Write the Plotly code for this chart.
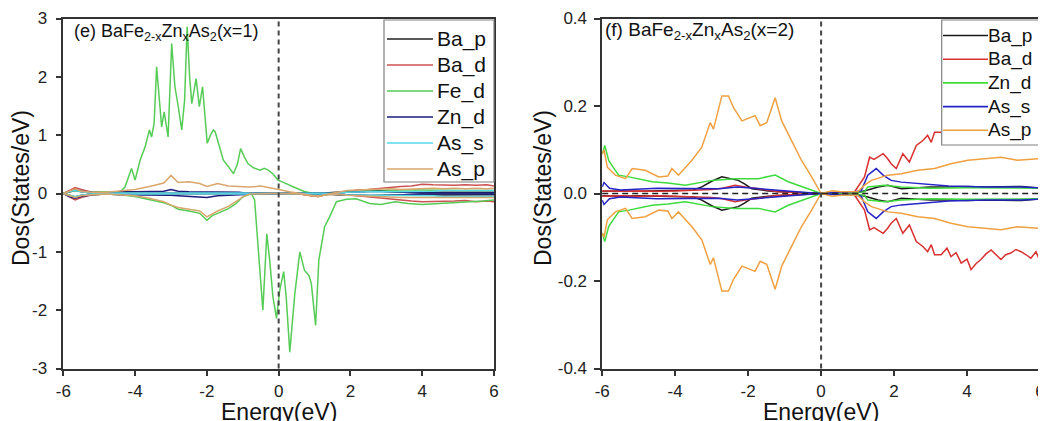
import plotly.graph_objects as go

# ---------------- Panel (e): x = 1 ----------------
E_fe_up = [-6.0, -5.7, -5.3, -4.9, -4.6, -4.42, -4.28, -4.1, -4.0, -3.86, -3.72, -3.6, -3.54, -3.47, -3.40,
           -3.33, -3.26, -3.19, -3.08, -2.98, -2.89, -2.80, -2.70, -2.62, -2.55, -2.48, -2.42, -2.30, -2.21,
           -2.12, -2.05, -1.99, -1.90, -1.82, -1.77, -1.65, -1.54, -1.40, -1.26, -1.15, -1.06, -0.95, -0.85,
           -0.70, -0.52, -0.40, -0.29, -0.15, -0.02, 0.1, 0.3, 0.5, 0.7, 0.9, 1.1, 1.3, 1.6, 1.9, 2.2, 2.6,
           3.0, 3.5, 4.0, 4.5, 5.0, 5.5, 6.0]
fe_d_up = [0.0, 0.05, 0.02, 0.03, 0.02, 0.03, 0.11, 0.43, 0.23, 0.57, 0.8, 1.09, 0.97, 1.2, 2.17,
           1.6, 1.14, 1.40, 0.97, 2.57, 1.83, 1.5, 1.09, 1.6, 2.86, 2.0, 1.54, 1.97, 1.49,
           1.83, 1.3, 0.86, 1.0, 1.09, 1.06, 0.8, 0.57, 0.46, 0.34, 0.5, 0.77, 0.62, 0.51,
           0.44, 0.40, 0.43, 0.40, 0.33, 0.23, 0.2, 0.14, 0.09, 0.04, 0.01, 0.0, -0.02, 0.0, 0.03, 0.04, 0.05,
           0.05, 0.06, 0.06, 0.05, 0.05, 0.05, 0.05]

E_fe_dn = [-6.0, -5.8, -5.67, -5.5, -5.2, -4.8, -4.4, -4.0, -3.6, -3.2, -3.0, -2.8, -2.5, -2.2, -2.0,
           -1.85, -1.7, -1.4, -1.2, -1.0, -0.85, -0.76, -0.67, -0.58, -0.44, -0.33, -0.25, -0.16, -0.06,
           0.03, 0.14, 0.21, 0.31, 0.45, 0.59, 0.72, 0.84, 0.91, 1.03, 1.12, 1.28, 1.42, 1.61, 1.89, 2.16,
           2.53, 2.84, 3.25, 3.6, 4.0, 4.3, 4.6, 5.0, 5.4, 5.7, 6.0]
fe_d_dn = [0.0, -0.03, -0.06, -0.04, -0.02, -0.01, -0.02, -0.05, -0.1, -0.16, -0.2, -0.27, -0.3, -0.34, -0.46,
           -0.38, -0.34, -0.26, -0.18, -0.06, -0.02, 0.0, -0.11, -0.92, -2.0, -0.69, -1.14, -1.77, -2.14,
           -1.66, -1.34, -1.77, -2.72, -1.72, -1.0, -1.32, -1.4, -1.54, -2.26, -1.14, -0.57, -0.4, -0.14, -0.10, -0.09,
           -0.17, -0.19, -0.14, -0.17, -0.19, -0.18, -0.17, -0.15, -0.14, -0.13, -0.11]

E_l = [-6.0, -5.8, -5.67, -5.5, -5.2, -4.8, -4.4, -4.0, -3.6, -3.2, -3.0, -2.8, -2.5, -2.2, -2.0, -1.7,
       -1.4, -1.1, -0.95, -0.8, -0.5, -0.2, 0.0, 0.3, 0.6, 0.9, 1.1, 1.3, 1.6, 1.9, 2.2, 2.5, 2.8, 3.1,
       3.4, 3.7, 4.0, 4.3, 4.6, 4.9, 5.2, 5.5, 5.8, 6.0]
ba_p_up = [0.0, 0.03, 0.05, 0.03, 0.01, 0.01, 0.01, 0.01, 0.01, 0.01, 0.02, 0.01, 0.01, 0.01, 0.01, 0.01,
           0.01, 0.01, 0.0, 0.0, 0.0, 0.0, 0.0, 0.0, 0.0, 0.0, 0.0, 0.01, 0.02, 0.03, 0.04, 0.04, 0.04, 0.03,
           0.03, 0.02, 0.02, 0.02, 0.02, 0.02, 0.02, 0.02, 0.02, 0.02]
ba_p_dn = [0.0, -0.04, -0.06, -0.03, -0.01, -0.01, -0.01, -0.01, -0.01, -0.01, -0.01, -0.02, -0.02, -0.02, -0.02, -0.01,
           -0.01, -0.01, 0.0, 0.0, 0.0, 0.0, 0.0, 0.0, 0.0, -0.01, -0.01, -0.01, -0.02, -0.03, -0.04, -0.04, -0.03, -0.03,
           -0.02, -0.02, -0.02, -0.02, -0.02, -0.02, -0.02, -0.02, -0.02, -0.02]
ba_d_up = [0.0, 0.06, 0.1, 0.07, 0.02, 0.01, 0.01, 0.01, 0.01, 0.01, 0.01, 0.01, 0.01, 0.01, 0.01, 0.01,
           0.01, 0.0, 0.0, 0.0, 0.0, 0.0, 0.0, 0.0, -0.01, -0.04, -0.05, -0.02, 0.01, 0.03, 0.06, 0.07, 0.09, 0.1,
           0.12, 0.13, 0.16, 0.15, 0.14, 0.14, 0.15, 0.14, 0.15, 0.13]
ba_d_dn = [0.0, -0.07, -0.11, -0.07, -0.02, -0.01, -0.01, -0.01, -0.01, -0.01, -0.01, -0.01, -0.01, -0.01, -0.01, -0.01,
           -0.01, 0.0, 0.0, 0.0, 0.0, 0.0, 0.0, 0.0, -0.01, -0.04, -0.05, -0.02, -0.01, -0.02, -0.04, -0.06, -0.08, -0.1,
           -0.11, -0.13, -0.14, -0.14, -0.13, -0.13, -0.12, -0.14, -0.13, -0.14]
zn_d_up = [0.0, 0.05, 0.07, 0.04, 0.02, 0.01, 0.03, 0.03, 0.03, 0.04, 0.07, 0.04, 0.03, 0.03, 0.02, 0.03,
           0.03, 0.02, 0.01, 0.005, 0.005, 0.0, 0.0, 0.0, 0.0, 0.0, 0.0, 0.0, 0.01, 0.02, 0.03, 0.04, 0.04, 0.03,
           0.02, 0.01, 0.01, 0.01, 0.01, 0.01, 0.01, 0.01, 0.01, 0.01]
zn_d_dn = [0.0, -0.06, -0.08, -0.05, -0.02, -0.01, -0.02, -0.02, -0.03, -0.03, -0.03, -0.04, -0.05, -0.06, -0.07, -0.04,
           -0.03, -0.02, -0.01, -0.005, -0.005, 0.0, 0.0, 0.0, 0.0, 0.0, 0.0, 0.0, -0.01, -0.02, -0.03, -0.04, -0.04, -0.03,
           -0.02, -0.01, -0.01, -0.01, -0.01, -0.01, -0.01, -0.01, -0.01, -0.01]
as_s_up = [0.0, 0.04, 0.05, 0.03, 0.01, 0.01, 0.01, 0.015, 0.015, 0.02, 0.02, 0.02, 0.02, 0.02, 0.02, 0.02,
           0.02, 0.02, 0.01, 0.005, 0.005, 0.005, 0.005, 0.005, 0.0, 0.0, 0.0, 0.0, 0.01, 0.02, 0.03, 0.03, 0.03, 0.03,
           0.04, 0.04, 0.04, 0.04, 0.05, 0.05, 0.05, 0.05, 0.05, 0.05]
as_s_dn = [0.0, -0.04, -0.05, -0.03, -0.01, -0.01, -0.01, -0.015, -0.015, -0.02, -0.02, -0.02, -0.02, -0.02, -0.02, -0.02,
           -0.02, -0.02, -0.01, -0.005, -0.005, -0.005, -0.005, -0.005, 0.0, 0.0, 0.0, 0.0, -0.01, -0.02, -0.03, -0.03, -0.03, -0.03,
           -0.04, -0.04, -0.04, -0.04, -0.05, -0.05, -0.05, -0.05, -0.05, -0.05]
as_p_up = [0.0, 0.05, 0.08, 0.04, 0.02, 0.02, 0.04, 0.07, 0.12, 0.18, 0.31, 0.19, 0.2, 0.17, 0.12, 0.17,
           0.13, 0.12, 0.11, 0.11, 0.13, 0.1, 0.07, 0.03, 0.0, -0.04, -0.05, -0.02, 0.02, 0.05, 0.06, 0.07, 0.07, 0.08,
           0.07, 0.08, 0.08, 0.09, 0.08, 0.09, 0.08, 0.09, 0.08, 0.09]
as_p_dn = [0.0, -0.04, -0.07, -0.04, -0.02, -0.01, -0.02, -0.04, -0.08, -0.14, -0.2, -0.24, -0.27, -0.3, -0.4, -0.3,
           -0.22, -0.1, -0.04, -0.01, 0.0, 0.0, 0.0, 0.0, -0.01, -0.04, -0.05, -0.02, -0.01, -0.03, -0.04, -0.05, -0.06, -0.06,
           -0.07, -0.07, -0.07, -0.07, -0.07, -0.07, -0.07, -0.07, -0.07, -0.07]

# ---------------- Panel (f): x = 2 (spin-symmetric, magnitudes) ----------------
E_r_bap = [-6.0, -5.5, -5.0, -4.5, -4.0, -3.5, -3.27, -3.0, -2.72, -2.45, -2.27, -2.1, -1.9, -1.45, -0.8,
           0.0, 0.5, 1.0, 1.28, 1.56, 1.83, 2.2, 2.65, 3.0, 3.5, 4.0, 4.5, 5.0, 5.5, 6.0]
bap2 = [0.005, 0.006, 0.005, 0.006, 0.006, 0.008, 0.015, 0.028, 0.038, 0.034, 0.030, 0.022, 0.011, 0.006, 0.003,
        0.0, 0.001, 0.002, 0.008, 0.015, 0.019, 0.011, 0.013, 0.015, 0.015, 0.016, 0.015, 0.016, 0.016, 0.012]
E_r_bad = [-6.0, -5.5, -5.0, -4.5, -4.0, -3.5, -3.0, -2.7, -2.36, -2.0, -1.8, -1.2, -0.6, 0.0, 0.5,
           0.92, 1.19, 1.33, 1.45, 1.56, 1.70, 1.82, 1.92, 2.06, 2.24, 2.42, 2.61, 2.79, 2.92, 3.02,
           3.11, 3.29, 3.45, 3.56, 3.7, 3.84, 4.0, 4.11, 4.25, 4.38, 4.52, 4.66, 4.8, 4.93, 5.06,
           5.20, 5.34, 5.48, 5.62, 5.75, 5.89, 6.0]
bad2 = [0.006, 0.005, 0.006, 0.005, 0.006, 0.007, 0.009, 0.012, 0.019, 0.014, 0.012, 0.004, 0.002, 0.0, 0.002,
        0.004, 0.038, 0.083, 0.078, 0.083, 0.091, 0.080, 0.068, 0.057, 0.091, 0.072, 0.110, 0.121, 0.133, 0.117,
        0.140, 0.140, 0.125, 0.144, 0.135, 0.159, 0.150, 0.174, 0.160, 0.151, 0.138, 0.129, 0.140, 0.151, 0.140,
        0.136, 0.128, 0.133, 0.140, 0.148, 0.133, 0.155]
E_r_znd = [-6.0, -5.93, -5.82, -5.55, -5.27, -4.63, -4.2, -3.72, -2.99, -2.36, -1.72, -1.26, -0.9, -0.35, 0.0,
           0.6, 1.19, 1.28, 1.74, 2.2, 3.0, 4.0, 5.0, 6.0]
znd2 = [0.09, 0.11, 0.075, 0.042, 0.038, 0.027, 0.024, 0.019, 0.030, 0.034, 0.034, 0.042, 0.027, 0.011, 0.0,
        0.001, 0.004, 0.015, 0.019, 0.015, 0.012, 0.013, 0.012, 0.012]
E_r_ass = [-6.0, -5.95, -5.8, -5.5, -4.5, -3.5, -2.8, -2.3, -1.5, -1.0, -0.5, 0.0, 0.3, 0.9, 1.1,
           1.28, 1.51, 1.70, 1.92, 2.2, 2.65, 3.5, 4.5, 5.5, 6.0]
ass2 = [0.015, 0.025, 0.012, 0.008, 0.012, 0.011, 0.011, 0.015, 0.009, 0.006, 0.003, 0.0, 0.002, 0.004, 0.006,
        0.042, 0.057, 0.042, 0.030, 0.026, 0.023, 0.017, 0.015, 0.015, 0.013]
E_r_asp = [-6.0, -5.95, -5.86, -5.64, -5.36, -5.18, -4.82, -4.45, -4.2, -4.09, -3.91, -3.54, -3.27, -3.04, -2.95,
           -2.72, -2.54, -2.40, -2.17, -2.04, -1.81, -1.67, -1.49, -1.26, -1.08, -0.81, -0.54, -0.26, 0.0, 0.3,
           0.56, 1.0, 1.19, 1.38, 1.83, 2.20, 2.65, 3.11, 3.56, 4.02, 4.47, 4.93, 5.38, 5.89, 6.0]
asp2 = [0.09, 0.10, 0.060, 0.042, 0.034, 0.057, 0.053, 0.038, 0.040, 0.057, 0.042, 0.076, 0.106, 0.162, 0.147,
        0.223, 0.223, 0.196, 0.166, 0.170, 0.178, 0.155, 0.162, 0.219, 0.166, 0.121, 0.076, 0.038, 0.0, 0.006,
        0.004, 0.004, 0.019, 0.030, 0.042, 0.045, 0.053, 0.057, 0.068, 0.076, 0.079, 0.083, 0.076, 0.079, 0.08]

# ticks / labels
x_ticks = [-6, -4, -2, 0, 2, 4, 6]
x_ticktext = ["-6", "-4", "-2", "0", "2", "4", "6"]
y1_ticks = [-3, -2, -1, 0, 1, 2, 3]
y1_ticktext = ["-3", "-2", "-1", "0", "1", "2", "3"]
y2_ticks = [-0.4, -0.2, 0.0, 0.2, 0.4]
y2_ticktext = ["-0.4", "-0.2", "0.0", "0.2", "0.4"]

FONT = "Arial, Liberation Sans, sans-serif"

left_series = [
    ("Ba_p", "#222222", E_l, ba_p_up, E_l, ba_p_dn),
    ("Ba_d", "#cc5252", E_l, ba_d_up, E_l, ba_d_dn),
    ("Fe_d", "#55cc55", E_fe_up, fe_d_up, E_fe_dn, fe_d_dn),
    ("Zn_d", "#1c1c7c", E_l, zn_d_up, E_l, zn_d_dn),
    ("As_s", "#55d8e8", E_l, as_s_up, E_l, as_s_dn),
    ("As_p", "#d9a66c", E_l, as_p_up, E_l, as_p_dn),
]
right_series = [
    ("Ba_p", "#1a1a1a", E_r_bap, bap2),
    ("Ba_d", "#d93030", E_r_bad, bad2),
    ("Zn_d", "#3ddc3d", E_r_znd, znd2),
    ("As_s", "#2424c8", E_r_ass, ass2),
    ("As_p", "#f0a040", E_r_asp, asp2),
]

fig = go.Figure()
for name, col, ex1, up, ex2, dn in left_series:
    fig.add_trace(go.Scatter(x=ex1, y=up, mode="lines", name=name, legendgroup="L" + name, showlegend=False,
                             line=dict(color=col, width=1.5), xaxis="x", yaxis="y"))
    fig.add_trace(go.Scatter(x=ex2, y=dn, mode="lines", name=name, legendgroup="L" + name, showlegend=False,
                             line=dict(color=col, width=1.5), xaxis="x", yaxis="y"))
for name, col, ex, mag in right_series:
    fig.add_trace(go.Scatter(x=ex, y=mag, mode="lines", name=name, legendgroup="R" + name, showlegend=False,
                             line=dict(color=col, width=1.5), xaxis="x2", yaxis="y2"))
    fig.add_trace(go.Scatter(x=ex, y=[-v for v in mag], mode="lines", name=name, legendgroup="R" + name,
                             showlegend=False, line=dict(color=col, width=1.5), xaxis="x2", yaxis="y2"))

# The page body adds an 8px offset; the figure is sized to fit the window after it.
OFF = 8
W, H = 1046 - OFF, 421 - OFF


def px(x):
    return (x - OFF) / W


def py(y):
    return 1 - (y - OFF) / H


xd1 = [px(63.3), px(494.0)]
xd2 = [px(602.2), px(1040.0)]
yd = [py(368.5), py(18.5)]

axis_common = dict(showline=True, linecolor="#333333", linewidth=1.5, mirror=True, ticks="outside",
                   ticklen=6, tickwidth=1.5, tickcolor="#333333", showgrid=False, zeroline=False,
                   automargin=False, tickfont=dict(family=FONT, size=17, color="#222222"))

fig.update_layout(
    width=W, height=H, margin=dict(l=0, r=0, t=0, b=0, pad=0, autoexpand=False),
    paper_bgcolor="white", plot_bgcolor="white", showlegend=False,
    xaxis=dict(domain=xd1, range=[-6, 6], tickvals=x_ticks, ticktext=x_ticktext, anchor="y", **axis_common),
    yaxis=dict(domain=yd, range=[-3, 3], tickvals=y1_ticks, ticktext=y1_ticktext, anchor="x",
               ticklabelstandoff=5, **axis_common),
    xaxis2=dict(domain=xd2, range=[-6, 6], tickvals=x_ticks, ticktext=x_ticktext, anchor="y2", **axis_common),
    yaxis2=dict(domain=yd, range=[-0.4, 0.4], tickvals=y2_ticks, ticktext=y2_ticktext, anchor="x2",
                ticklabelstandoff=4, **axis_common),
)

# reference dashed lines
fig.add_shape(type="line", xref="x", yref="y domain", x0=0, x1=0, y0=0, y1=1,
              line=dict(color="#444444", width=2, dash="5px,4px"))
fig.add_shape(type="line", xref="x2", yref="y2 domain", x0=0, x1=0, y0=0, y1=1,
              line=dict(color="#444444", width=2, dash="5px,4px"))
fig.add_shape(type="line", xref="x2 domain", yref="y2", x0=0, x1=1, y0=0, y1=0,
              line=dict(color="#222222", width=1.5, dash="6px,4px"))


# legends (boxed, top-right of each panel)
def draw_legend(names_colors, box, row0, drow, line_x, text_x, fsize):
    x0, y0, x1, y1 = box
    fig.add_shape(type="rect", xref="paper", yref="paper", x0=px(x0), x1=px(x1), y0=py(y1), y1=py(y0),
                  line=dict(color="#808080", width=1.2), fillcolor="white", layer="above")
    for i, (nm, col) in enumerate(names_colors):
        yc = row0 + i * drow
        fig.add_shape(type="line", xref="paper", yref="paper", x0=px(line_x[0]), x1=px(line_x[1]),
                      y0=py(yc), y1=py(yc), line=dict(color=col, width=1.6), layer="above")
        fig.add_annotation(xref="paper", yref="paper", x=px(text_x), y=py(yc), xanchor="left",
                           yanchor="middle", showarrow=False, text=nm,
                           font=dict(family=FONT, size=fsize, color="#111111"))


draw_legend([(s[0], s[1]) for s in left_series], (384, 20, 494, 182), 39, 26, (387, 433), 435, 21)
draw_legend([(s[0], s[1]) for s in right_series], (941.7, 20, 1040, 145), 35.5, 23.7, (943, 988), 986, 19)

# panel labels
fig.add_annotation(xref="paper", yref="paper", x=px(72), y=py(32), xanchor="left", yanchor="middle",
                   showarrow=False, font=dict(family=FONT, size=18, color="#111111"),
                   text="(e) BaFe<sub>2-x</sub>Zn<sub>x</sub>As<sub>2</sub>(x=1)")
fig.add_annotation(xref="paper", yref="paper", x=px(603), y=py(31), xanchor="left", yanchor="middle",
                   showarrow=False, font=dict(family=FONT, size=19, color="#111111"),
                   text="(f) BaFe<sub>2-x</sub>Zn<sub>x</sub>As<sub>2</sub>(x=2)")

# axis titles
for xc in [63.3 + (494.0 - 63.3) / 2, 602.2 + (1040.0 - 602.2) / 2]:
    fig.add_annotation(xref="paper", yref="paper", x=px(xc), y=py(412), xanchor="center", yanchor="middle",
                       showarrow=False, font=dict(family=FONT, size=23, color="#111111"), text="Energy(eV)")
for xp in [21.0, 543.0]:
    fig.add_annotation(xref="paper", yref="paper", x=px(xp), y=py(188), xanchor="center", yanchor="middle",
                       showarrow=False, textangle=-90, font=dict(family=FONT, size=23, color="#111111"),
                       text="Dos(States/eV)")

fig.write_html("out.html")
